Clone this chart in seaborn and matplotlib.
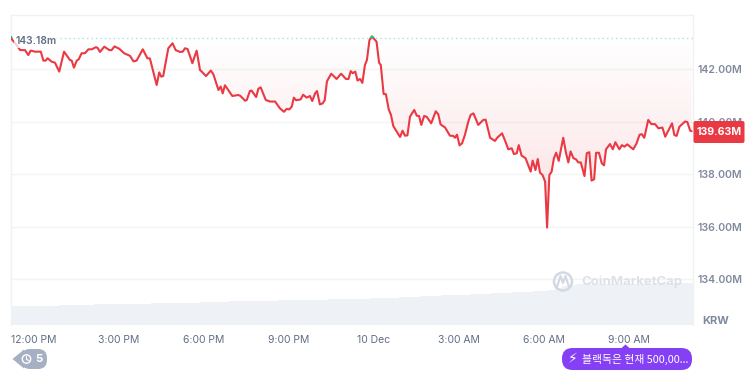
import numpy as np
import seaborn as sns
import matplotlib.pyplot as plt
from matplotlib.patches import Circle, FancyBboxPatch, Polygon, Rectangle

# price: hours after 12:00 PM, millions KRW
hours = [-0.81, -0.78, -0.61, -0.49, -0.32, -0.20, -0.12, 0.04, 0.24, 0.33, 0.41, 0.48, 0.62, 0.74, 0.89, 1.06, 1.27, 1.33, 1.41, 1.51,
         1.58, 1.68, 1.80, 1.92, 2.04, 2.18, 2.24, 2.33, 2.48, 2.66, 2.74, 2.84, 3.01, 3.18, 3.39, 3.51, 3.62, 3.84, 4.00, 4.09,
         4.33, 4.42, 4.49, 4.56, 4.74, 4.89, 5.00, 5.15, 5.25, 5.33, 5.42, 5.59, 5.74, 5.86, 5.92, 6.07, 6.24, 6.33, 6.51, 6.59,
         6.66, 6.74, 7.00, 7.21, 7.29, 7.45, 7.51, 7.62, 7.68, 7.84, 7.92, 8.00, 8.18, 8.33, 8.51, 8.68, 8.82, 8.92, 9.01, 9.10,
         9.17, 9.25, 9.41, 9.50, 9.62, 9.74, 9.82, 9.92, 9.99, 10.09, 10.19, 10.26, 10.34, 10.49, 10.68, 10.84, 11.01, 11.10, 11.18, 11.25,
         11.34, 11.42, 11.51, 11.59, 11.68, 11.75, 11.84, 11.93, 12.04, 12.09, 12.18, 12.24, 12.34, 12.42, 12.52, 12.60, 12.68, 12.92, 13.01, 13.09,
         13.18, 13.27, 13.42, 13.51, 13.59, 13.67, 13.77, 13.86, 14.02, 14.18, 14.27, 14.35, 14.51, 14.68, 14.80, 14.86, 14.93, 15.02, 15.11, 15.21,
         15.33, 15.41, 15.51, 15.68, 15.86, 15.94, 16.10, 16.27, 16.35, 16.52, 16.63, 16.74, 16.86, 16.94, 17.04, 17.11, 17.21, 17.35, 17.53, 17.60,
         17.70, 17.78, 17.86, 17.95, 18.04, 18.11, 18.19, 18.27, 18.35, 18.43, 18.52, 18.68, 18.78, 18.86, 18.94, 19.04, 19.13, 19.21, 19.30, 19.43,
         19.51, 19.60, 19.68, 19.77, 19.84, 19.94, 20.04, 20.12, 20.19, 20.33, 20.43, 20.52, 20.66, 20.75, 20.84, 20.94, 21.15, 21.27, 21.37, 21.45,
         21.54, 21.68, 21.79, 21.92, 22.04, 22.18, 22.28, 22.52, 22.60, 22.68, 22.78, 22.98, 23.06, 23.16, 23.21]
prices = [143.22, 143.13, 142.91, 142.72, 142.72, 142.53, 142.70, 142.66, 142.66, 142.32, 142.32, 142.41, 142.28, 142.24, 141.90, 142.66, 142.34, 142.32, 142.05, 142.32,
          142.37, 142.60, 142.60, 142.75, 142.75, 142.83, 142.81, 142.65, 142.85, 142.72, 142.72, 142.86, 142.77, 142.60, 142.50, 142.29, 142.32, 142.75, 142.41, 142.40,
          141.39, 141.87, 141.71, 141.73, 142.79, 142.98, 142.72, 142.65, 142.66, 142.79, 142.76, 142.22, 142.70, 141.96, 141.90, 141.73, 141.94, 141.80, 141.20, 141.33,
          141.07, 141.38, 140.97, 141.01, 140.97, 140.79, 140.82, 141.16, 141.18, 140.93, 141.25, 141.30, 140.82, 140.76, 140.76, 140.50, 140.37, 140.48, 140.46, 140.57,
          140.91, 140.81, 140.84, 141.02, 140.91, 140.97, 140.78, 141.07, 141.16, 140.65, 140.69, 140.81, 141.53, 141.82, 141.62, 141.82, 141.62, 141.62, 141.92, 141.84,
          141.90, 141.56, 141.62, 141.47, 142.15, 142.34, 143.10, 143.24, 143.10, 143.04, 142.24, 142.15, 141.05, 141.04, 140.46, 140.25, 139.83, 139.41, 139.65, 139.46,
          139.47, 140.18, 140.44, 140.22, 140.21, 139.87, 140.21, 140.18, 139.93, 140.39, 140.27, 139.89, 139.77, 139.46, 139.45, 139.38, 139.50, 139.09, 139.17, 139.49,
          140.00, 140.25, 140.31, 139.87, 140.06, 140.07, 139.38, 139.26, 139.38, 139.55, 139.26, 138.94, 138.98, 138.76, 138.79, 139.10, 138.70, 138.60, 138.09, 138.51,
          138.15, 138.57, 138.05, 137.96, 137.71, 135.96, 137.96, 138.09, 138.60, 138.81, 138.50, 139.38, 138.79, 138.44, 138.86, 138.60, 138.56, 138.44, 138.44, 137.92,
          138.79, 138.83, 137.75, 137.80, 138.81, 138.81, 138.41, 138.33, 138.94, 139.14, 138.94, 139.21, 138.94, 139.10, 139.04, 139.13, 138.94, 139.17, 139.49, 139.52,
          139.38, 140.06, 139.90, 139.90, 139.74, 139.77, 139.42, 139.93, 139.49, 139.45, 139.80, 140.00, 139.98, 139.65, 139.63]
open_price = 143.18

# volume, in arbitrary units, one bar per quarter hour
volume = [19, 19, 19, 19, 19, 19, 19, 20, 20, 20, 20, 20, 21, 21, 21, 21, 21, 21, 21, 21,
          22, 22, 22, 22, 22, 22, 22, 23, 23, 23, 23, 24, 24, 24, 24, 24, 24, 24, 25, 25,
          25, 25, 25, 25, 25, 26, 26, 26, 26, 26, 26, 27, 27, 27, 27, 28, 28, 28, 29, 29,
          29, 30, 30, 30, 30, 31, 31, 31, 32, 32, 32, 33, 33, 33, 34, 34, 35, 37, 39, 40,
          41, 41, 41, 41, 41, 41, 41, 41, 41, 41, 41, 42, 42, 42, 42, 42, 42]

tick_hours = [0, 3, 6, 9, 12, 15, 18, 21]
tick_labels = ['12:00 PM', '3:00 PM', '6:00 PM', '9:00 PM', '10 Dec', '3:00 AM', '6:00 AM', '9:00 AM']
price_ticks = [134, 136, 138, 140, 142]

RED = '#ea3943'
GREY = '#808a9d'

sns.set_theme(style='white')
plt.rcParams['font.family'] = ['Inter', 'Noto Sans CJK KR', 'DejaVu Sans']

W, H = 754, 377
fig = plt.figure(figsize=(W / 100, H / 100), dpi=100)
rect = [11 / W, 1 - 325 / H, 682 / W, 310 / H]
xlim = (-0.812, 23.26)
ylim = (132.248, 144.057)

# volume bars sit behind the price
ax_vol = fig.add_axes(rect, zorder=1)
vol_hours = np.arange(-0.75, 23.5, 0.25)
sns.barplot(x=vol_hours, y=volume, native_scale=True, width=1, color='#eef1f5', saturation=1,
            edgecolor='#eef1f5', linewidth=0.6, ax=ax_vol)
ax_vol.set_xlim(xlim)
ax_vol.set_ylim(0, 310)
ax_vol.axis('off')

ax = fig.add_axes(rect, zorder=2)
ax.patch.set_alpha(0)

# pink gradient between the opening price and the line
poly = ax.fill_between(hours, prices, open_price, color='none')
grad = np.zeros((200, 2, 4))
grad[..., :3] = (234 / 255, 57 / 255, 67 / 255)
grad[..., 3] = np.linspace(0.16, 0, 200)[:, None]
im = ax.imshow(grad, extent=(xlim[0], xlim[1], 136, open_price), origin='lower', aspect='auto', zorder=1)
im.set_clip_path(poly.get_paths()[0], transform=ax.transData)

ax.axhline(open_price, color='#a9e2cf', lw=1, ls=(0, (1, 2.2)), zorder=2)
sns.lineplot(x=hours, y=prices, sort=False, estimator=None, color=RED, lw=1.5, ax=ax, zorder=3)
# the bit above the opening price turns green
top = sns.lineplot(x=hours, y=prices, sort=False, estimator=None, color='#16c784', lw=1.5, ax=ax, zorder=4)
clip = Rectangle((xlim[0], open_price), xlim[1] - xlim[0], 1, transform=ax.transData)
top.lines[-1].set_clip_path(clip)

ax.set_xlim(xlim)
ax.set_ylim(ylim)
ax.set_xticks(tick_hours)
ax.set_xticklabels(tick_labels, fontsize=7.5, color='#616e85')
ax.yaxis.tick_right()
ax.set_yticks(price_ticks)
ax.set_yticklabels([f'{v:.2f}M' for v in price_ticks], fontsize=7.6, color=GREY, fontweight='semibold')
ax.tick_params(axis='x', length=0, pad=7)
ax.tick_params(axis='y', length=0, pad=3)
ax.grid(axis='y', color='#f3f4f6', lw=1)
ax.set_axisbelow(True)
for side in ['left', 'right', 'top']:
    ax.spines[side].set_color('#eff1f3')
    ax.spines[side].set_linewidth(1)
ax.spines['bottom'].set_visible(False)

# overlay in picture pixels for the badges and the watermark
ov = fig.add_axes([0, 0, 1, 1], zorder=5)
ov.set_xlim(0, W)
ov.set_ylim(H, 0)
ov.axis('off')

ov.text(16, 41, '143.18m', fontsize=7.4, color='#616e85', fontweight='semibold', va='center',
        bbox=dict(facecolor='white', edgecolor='none', alpha=0.75, pad=1.5))

ov.add_patch(FancyBboxPatch((693.5, 121), 51, 22, boxstyle='round,pad=0,rounding_size=2', fc=RED, ec='none'))
ov.text(719, 132, '139.63M', fontsize=7.6, color='white', fontweight='bold', ha='center', va='center')
ov.text(716, 321, 'KRW', fontsize=8, color=GREY, fontweight='bold', ha='center', va='center')

# watermark
ov.add_patch(Circle((563, 281.5), 9, fc='none', ec='#d3d9e3', lw=1.8))
ov.plot([557, 560.5, 563, 565.5, 569], [287, 276, 283, 276, 287], color='#d3d9e3', lw=1.6)
ov.text(581, 282, 'CoinMarketCap', fontsize=9.5, color='#dde1e8', fontweight='bold', va='center')

# history badge
ov.add_patch(FancyBboxPatch((21, 349), 26, 20, boxstyle='round,pad=0,rounding_size=9', fc='#a6b0c3', ec='none'))
ov.add_patch(Polygon([(12.5, 359), (24, 349.5), (24, 368.5)], fc='#a6b0c3', ec='none'))
ov.add_patch(Circle((26.5, 359), 4.2, fc='none', ec='white', lw=1))
ov.plot([26.5, 26.5, 29], [356.5, 359.5, 360.5], color='white', lw=0.8)
ov.text(39, 359, '5', fontsize=8.2, color='white', fontweight='bold', ha='center', va='center')

# purple announcement pill
ov.add_patch(FancyBboxPatch((562, 348), 130, 22, boxstyle='round,pad=0,rounding_size=10.5', fc='#8540f5', ec='none'))
ov.add_patch(Polygon([(621, 348.5), (625.5, 344.5), (630, 348.5)], fc='#8540f5', ec='none'))
ov.text(573, 359, '\u26a1', fontsize=10, color='white', ha='center', va='center', family='DejaVu Sans')
ov.text(582, 359, '블랙독은 현재 500,00...', fontsize=7.8, color='white', fontweight='medium', va='center',
        family=['Noto Sans CJK KR', 'DejaVu Sans'])

fig.savefig('out.png', dpi=100)
